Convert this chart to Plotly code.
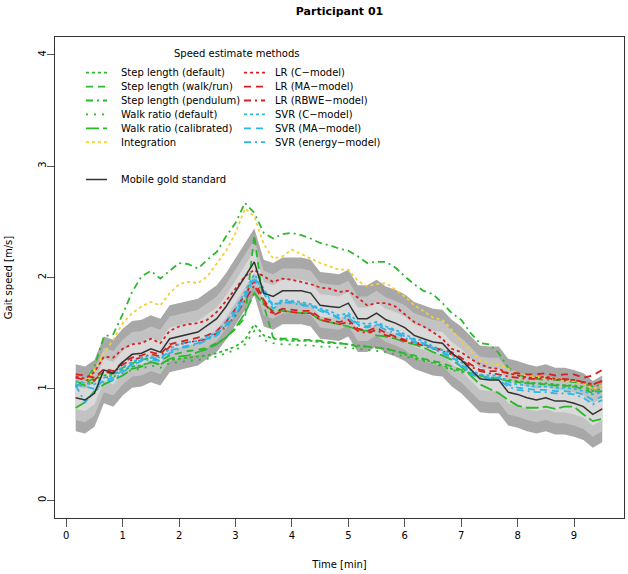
import plotly.graph_objects as go

# ---------------- data ----------------
time_min = [0.167, 0.333, 0.5, 0.667, 0.833, 1.0, 1.167, 1.333, 1.5, 1.667, 1.833, 2.0, 2.167, 2.333,
            2.5, 2.667, 2.833, 3.0, 3.167, 3.333, 3.5, 3.667, 3.833, 4.0, 4.167, 4.333, 4.5, 4.667,
            4.833, 5.0, 5.167, 5.333, 5.5, 5.667, 5.833, 6.0, 6.167, 6.333, 6.5, 6.667, 6.833,
            7.0, 7.167, 7.333, 7.5, 7.667, 7.833, 8.0, 8.167, 8.333, 8.5, 8.667, 8.833, 9.0, 9.167, 9.333, 9.5]

gold_standard = [0.92, 0.90, 0.96, 1.17, 1.14, 1.24, 1.31, 1.32, 1.36, 1.33, 1.45, 1.47, 1.49, 1.51,
                 1.57, 1.63, 1.74, 1.87, 2.00, 2.14, 1.86, 1.83, 1.88, 1.88, 1.88, 1.86, 1.75, 1.74,
                 1.73, 1.77, 1.63, 1.63, 1.68, 1.62, 1.59, 1.55, 1.48, 1.45, 1.42, 1.41, 1.32,
                 1.26, 1.17, 1.09, 1.08, 1.08, 0.97, 0.95, 0.92, 0.90, 0.92, 0.89, 0.89, 0.87, 0.84, 0.77, 0.82]

band_offsets = [0.3, 0.2, 0.1]   # tolerance bands around the gold standard [m/s]

step_length_default = [1.03, 1.04, 1.07, 1.12, 1.13, 1.17, 1.20, 1.21, 1.24, 1.22, 1.26, 1.27, 1.28, 1.29,
                       1.30, 1.32, 1.35, 1.38, 1.44, 1.58, 1.48, 1.45, 1.44, 1.43, 1.43, 1.43, 1.42, 1.41,
                       1.41, 1.40, 1.39, 1.38, 1.37, 1.36, 1.34, 1.31, 1.28, 1.26, 1.24, 1.21, 1.18,
                       1.16, 1.14, 1.12, 1.10, 1.10, 1.08, 1.07, 1.06, 1.05, 1.05, 1.04, 1.03, 1.03, 1.02, 0.98, 1.00]

step_length_walkrun = [1.04, 1.05, 1.10, 1.15, 1.14, 1.19, 1.23, 1.26, 1.28, 1.25, 1.30, 1.32, 1.34, 1.35,
                       1.37, 1.41, 1.46, 1.54, 1.64, 2.38, 1.75, 1.46, 1.45, 1.45, 1.44, 1.44, 1.43, 1.42,
                       1.41, 1.40, 1.38, 1.38, 1.37, 1.36, 1.34, 1.32, 1.30, 1.27, 1.25, 1.23, 1.20,
                       1.17, 1.14, 1.12, 1.10, 1.09, 1.07, 1.06, 1.05, 1.05, 1.04, 1.03, 1.03, 1.02, 1.00, 0.96, 0.98]

step_length_pendulum = [1.05, 1.06, 1.20, 1.47, 1.49, 1.67, 1.87, 2.01, 2.06, 1.99, 2.06, 2.13, 2.12, 2.08,
                        2.16, 2.23, 2.37, 2.49, 2.67, 2.58, 2.40, 2.35, 2.39, 2.40, 2.38, 2.35, 2.31, 2.29,
                        2.26, 2.24, 2.19, 2.13, 2.14, 2.14, 2.09, 2.01, 1.94, 1.88, 1.85, 1.77, 1.68,
                        1.62, 1.50, 1.41, 1.40, 1.32, 1.19, 1.13, 1.10, 1.09, 1.08, 1.08, 1.07, 1.06, 1.05, 1.02, 1.04]

walk_ratio_default = [1.02, 1.03, 1.06, 1.10, 1.11, 1.14, 1.17, 1.18, 1.21, 1.19, 1.23, 1.24, 1.25, 1.26,
                      1.27, 1.29, 1.32, 1.35, 1.40, 1.52, 1.44, 1.41, 1.40, 1.40, 1.39, 1.39, 1.38, 1.38,
                      1.37, 1.37, 1.36, 1.35, 1.34, 1.33, 1.31, 1.29, 1.27, 1.25, 1.23, 1.20, 1.17,
                      1.15, 1.13, 1.11, 1.09, 1.09, 1.07, 1.06, 1.05, 1.04, 1.04, 1.03, 1.02, 1.02, 1.01, 0.97, 0.99]

walk_ratio_calibrated = [0.83, 0.88, 0.98, 1.04, 1.08, 1.12, 1.18, 1.20, 1.24, 1.22, 1.27, 1.29, 1.30, 1.33,
                         1.36, 1.40, 1.46, 1.55, 1.68, 1.86, 1.76, 1.70, 1.70, 1.69, 1.68, 1.68, 1.62, 1.60,
                         1.58, 1.56, 1.53, 1.52, 1.48, 1.47, 1.45, 1.42, 1.40, 1.37, 1.33, 1.30, 1.26,
                         1.20, 1.12, 1.04, 1.00, 0.96, 0.90, 0.85, 0.83, 0.83, 0.84, 0.82, 0.84, 0.84, 0.77, 0.71, 0.73]

integration = [1.04, 1.06, 1.17, 1.32, 1.44, 1.59, 1.68, 1.74, 1.78, 1.75, 1.86, 1.94, 1.96, 1.95,
               2.01, 2.12, 2.24, 2.40, 2.62, 2.55, 2.30, 2.17, 2.19, 2.25, 2.21, 2.17, 2.13, 2.10,
               2.07, 2.07, 1.97, 1.92, 1.94, 1.95, 1.89, 1.83, 1.75, 1.70, 1.64, 1.62, 1.53,
               1.42, 1.34, 1.26, 1.23, 1.22, 1.18, 1.14, 1.12, 1.11, 1.10, 1.09, 1.08, 1.07, 1.05, 1.00, 1.03]

lr_c_model = [1.11, 1.09, 1.15, 1.29, 1.28, 1.36, 1.40, 1.41, 1.45, 1.41, 1.52, 1.56, 1.58, 1.59,
              1.62, 1.69, 1.79, 1.90, 2.01, 2.07, 2.01, 1.96, 1.99, 1.98, 1.96, 1.94, 1.91, 1.90,
              1.87, 1.88, 1.82, 1.75, 1.77, 1.77, 1.74, 1.67, 1.60, 1.56, 1.51, 1.45, 1.36,
              1.33, 1.27, 1.22, 1.19, 1.18, 1.14, 1.12, 1.10, 1.10, 1.11, 1.09, 1.08, 1.08, 1.06, 1.04, 1.07]

lr_ma_model = [1.13, 1.12, 1.10, 1.18, 1.16, 1.24, 1.28, 1.30, 1.33, 1.31, 1.40, 1.42, 1.44, 1.46,
               1.48, 1.52, 1.60, 1.72, 1.85, 1.97, 1.80, 1.68, 1.72, 1.71, 1.70, 1.70, 1.64, 1.62,
               1.60, 1.62, 1.54, 1.52, 1.55, 1.50, 1.47, 1.44, 1.42, 1.40, 1.37, 1.35, 1.33,
               1.28, 1.22, 1.17, 1.16, 1.16, 1.14, 1.14, 1.13, 1.13, 1.14, 1.12, 1.13, 1.13, 1.10, 1.12, 1.17]

lr_rbwe_model = [1.10, 1.08, 1.08, 1.15, 1.14, 1.22, 1.26, 1.28, 1.31, 1.29, 1.38, 1.40, 1.42, 1.43,
                 1.45, 1.50, 1.56, 1.66, 1.80, 1.93, 1.78, 1.66, 1.70, 1.69, 1.68, 1.68, 1.62, 1.60,
                 1.58, 1.60, 1.52, 1.50, 1.53, 1.48, 1.46, 1.43, 1.41, 1.39, 1.36, 1.34, 1.31,
                 1.26, 1.20, 1.16, 1.14, 1.13, 1.11, 1.10, 1.09, 1.09, 1.10, 1.08, 1.09, 1.08, 1.06, 1.04, 1.07]

svr_c_model = [1.07, 1.05, 1.04, 1.10, 1.12, 1.20, 1.24, 1.28, 1.30, 1.28, 1.36, 1.40, 1.42, 1.43,
               1.47, 1.51, 1.60, 1.72, 1.87, 2.03, 1.90, 1.75, 1.80, 1.79, 1.78, 1.76, 1.72, 1.70,
               1.66, 1.68, 1.60, 1.58, 1.60, 1.56, 1.53, 1.49, 1.45, 1.43, 1.38, 1.35, 1.31,
               1.24, 1.17, 1.13, 1.12, 1.12, 1.06, 1.04, 1.03, 1.02, 1.02, 1.01, 1.01, 1.00, 0.98, 0.95, 0.97]

svr_ma_model = [1.04, 1.02, 1.00, 1.08, 1.10, 1.17, 1.22, 1.26, 1.28, 1.27, 1.34, 1.37, 1.39, 1.41,
                1.45, 1.49, 1.57, 1.69, 1.84, 2.00, 1.88, 1.74, 1.79, 1.78, 1.76, 1.75, 1.71, 1.68,
                1.64, 1.66, 1.58, 1.56, 1.58, 1.55, 1.52, 1.47, 1.44, 1.41, 1.37, 1.33, 1.29,
                1.22, 1.15, 1.11, 1.10, 1.10, 1.04, 1.01, 1.00, 0.99, 0.99, 0.98, 0.98, 0.97, 0.95, 0.90, 0.93]

svr_energy_model = [1.03, 0.88, 0.98, 1.07, 1.08, 1.15, 1.21, 1.25, 1.26, 1.25, 1.32, 1.36, 1.38, 1.40,
                    1.44, 1.48, 1.55, 1.66, 1.82, 1.98, 1.86, 1.72, 1.78, 1.77, 1.75, 1.74, 1.70, 1.67,
                    1.63, 1.64, 1.57, 1.55, 1.57, 1.53, 1.50, 1.46, 1.42, 1.40, 1.36, 1.32, 1.28,
                    1.20, 1.13, 1.10, 1.09, 1.08, 1.02, 0.99, 0.98, 0.97, 0.97, 0.96, 0.96, 0.95, 0.92, 0.86, 0.90]

x_ticks = [0, 1, 2, 3, 4, 5, 6, 7, 8, 9]
y_ticks = [0, 1, 2, 3, 4]

# ---------------- styles ----------------
GREEN = "#2cb82c"
RED = "#d82020"
YELLOW = "#f2d03a"
BLUE = "#2db6e6"
BAND_COLORS = ["#a8a8a8", "#c2c2c2", "#d9d9d9"]
FONT = "DejaVu Sans"

DOT = "3px,3px"
DASH = "7px,5px"
DASHDOT = "7px,4px,2px,4px"
SPARSE_DOT = "2px,6px"
LONGDASH = "13px,4px"

methods = [
    ("Step length (default)", step_length_default, GREEN, DOT),
    ("Step length (walk/run)", step_length_walkrun, GREEN, DASH),
    ("Step length (pendulum)", step_length_pendulum, GREEN, DASHDOT),
    ("Walk ratio (default)", walk_ratio_default, GREEN, SPARSE_DOT),
    ("Walk ratio (calibrated)", walk_ratio_calibrated, GREEN, LONGDASH),
    ("Integration", integration, YELLOW, DOT),
    ("LR (C\u2212model)", lr_c_model, RED, DOT),
    ("LR (MA\u2212model)", lr_ma_model, RED, DASH),
    ("LR (RBWE\u2212model)", lr_rbwe_model, RED, DASHDOT),
    ("SVR (C\u2212model)", svr_c_model, BLUE, DOT),
    ("SVR (MA\u2212model)", svr_ma_model, BLUE, DASH),
    ("SVR (energy\u2212model)", svr_energy_model, BLUE, DASHDOT),
]

fig = go.Figure()

# tolerance bands
for off, col in zip(band_offsets, BAND_COLORS):
    lower = [g - off for g in gold_standard]
    upper = [g + off for g in gold_standard]
    fig.add_trace(go.Scatter(x=time_min, y=lower, mode="lines", line=dict(width=0, color=col),
                             showlegend=False, hoverinfo="skip"))
    fig.add_trace(go.Scatter(x=time_min, y=upper, mode="lines", line=dict(width=0, color=col),
                             fill="tonexty", fillcolor=col, showlegend=False, hoverinfo="skip"))

for name, vals, col, dash in methods:
    fig.add_trace(go.Scatter(x=time_min, y=vals, mode="lines", name=name,
                             line=dict(color=col, width=1.8, dash=dash), showlegend=False))

fig.add_trace(go.Scatter(x=time_min, y=gold_standard, mode="lines", name="Mobile gold standard",
                         line=dict(color="#333333", width=1.5), showlegend=False))

# ---------------- manual legend (pixel layout -> paper coords) ----------------
W, H = 628, 574
L, R, T, B = 55, 4, 37, 56
PW, PH = W - L - R, H - T - B


def px(xp):
    return (xp - L) / PW


def py(yp):
    return (H - B - yp) / PH


shapes = []
annotations = []
annotations.append(dict(text="Speed estimate methods", x=px(237), y=py(53), xref="paper", yref="paper",
                        showarrow=False, xanchor="center", yanchor="middle",
                        font=dict(family=FONT, size=10, color="#000")))
row_y = [72.7, 86.6, 100.5, 114.4, 128.3, 142.2]
cols = [(86, 107, 119), (244, 265, 273)]
for i, (name, vals, col, dash) in enumerate(methods):
    c = cols[i // 6]
    yy = row_y[i % 6]
    shapes.append(dict(type="line", xref="paper", yref="paper", x0=px(c[0]), x1=px(c[1]),
                       y0=py(yy), y1=py(yy), line=dict(color=col, width=1.8, dash=dash)))
    annotations.append(dict(text=name, x=px(c[2]), y=py(yy), xref="paper", yref="paper",
                            showarrow=False, xanchor="left", yanchor="middle",
                            font=dict(family=FONT, size=10, color="#000")))
shapes.append(dict(type="line", xref="paper", yref="paper", x0=px(86), x1=px(107),
                   y0=py(179.5), y1=py(179.5), line=dict(color="#333333", width=1.5)))
annotations.append(dict(text="Mobile gold standard", x=px(119), y=py(179.5), xref="paper", yref="paper",
                        showarrow=False, xanchor="left", yanchor="middle",
                        font=dict(family=FONT, size=10, color="#000")))

fig.update_layout(
    width=W, height=H,
    margin=dict(l=L, r=R, t=T, b=B, pad=0, autoexpand=False),
    paper_bgcolor="white", plot_bgcolor="white",
    font=dict(family=FONT, size=10, color="#000"),
    title=dict(text="<b>Participant 01</b>", x=0.5, xref="paper", y=1 - 11 / H, yref="container",
               xanchor="center", yanchor="middle", font=dict(family=FONT, size=11, color="#000")),
    showlegend=False,
    shapes=shapes,
    annotations=annotations,
    xaxis=dict(range=[-0.2, 9.886], tickvals=x_ticks, ticks="outside", ticklen=8, tickcolor="#555",
               showline=True, mirror=True, linecolor="#333", linewidth=1, showgrid=False, zeroline=False,
               automargin=False,
               title=dict(text="Time [min]", standoff=20, font=dict(family=FONT, size=10)),
               tickfont=dict(family=FONT, size=10)),
    yaxis=dict(range=[-0.16, 4.16], tickvals=y_ticks, ticks="outside", ticklen=7, tickcolor="#555",
               tickangle=-90, ticklabelstandoff=-3, automargin=False,
               showline=True, mirror=True, linecolor="#333", linewidth=1, showgrid=False, zeroline=False,
               title=dict(text="Gait speed [m/s]", standoff=22, font=dict(family=FONT, size=10)),
               tickfont=dict(family=FONT, size=10)),
)

fig.write_html("out.html", config={"displayModeBar": False},
               post_script="document.body.style.margin='0';")
